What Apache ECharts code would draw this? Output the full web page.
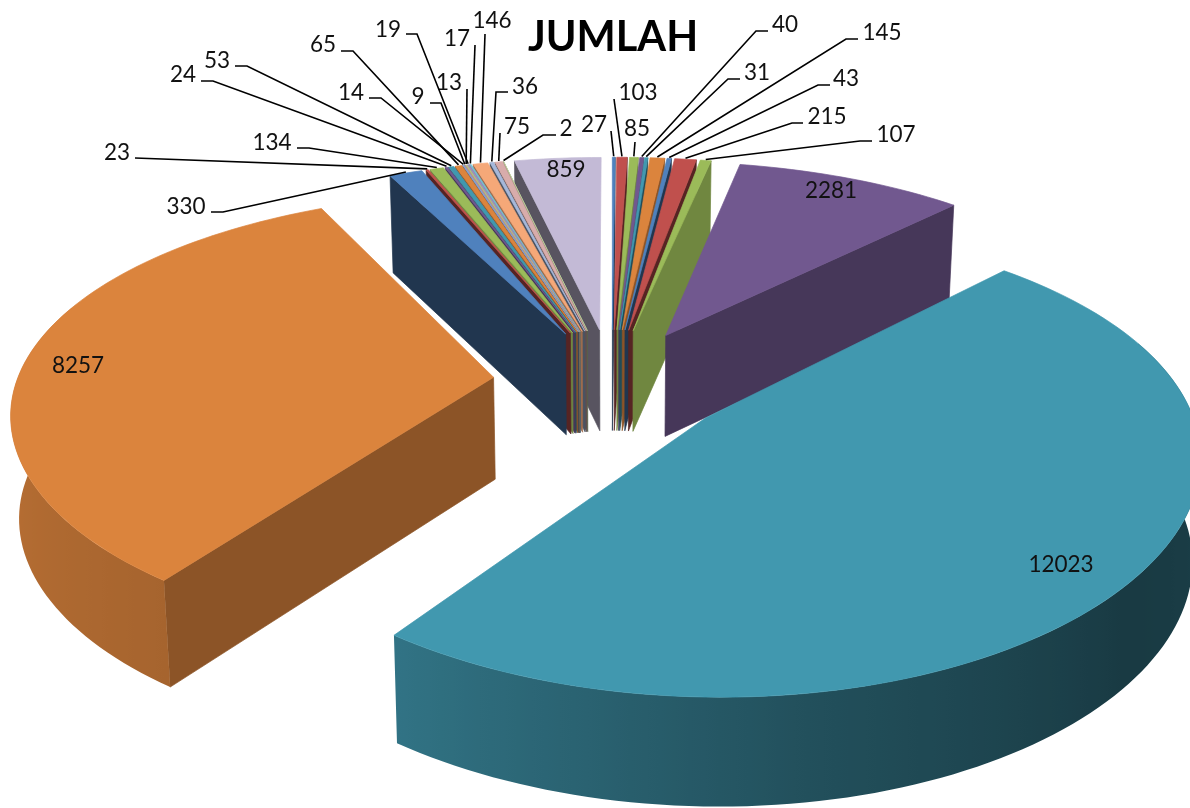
<!DOCTYPE html>
<html><head><meta charset="utf-8">
<style>html,body{margin:0;padding:0;background:#fff}#c{width:1190px;height:808px}</style>
<script src="https://cdn.jsdelivr.net/npm/echarts@6/dist/echarts.min.js"></script>
</head><body><div id="c"></div>
<script>
// ---- data (clockwise from 12 o'clock) ----
const labels = ['27','103','85','40','31','145','43','215','107','2281','12023','8257','330','23','134','24','53','65','14','9','13','19','17','146','36','75','2','859'];
const values = [27,103,85,40,31,145,43,215,107,2281,12023,8257,330,23,134,24,53,65,14,9,13,19,17,146,36,75,2,859];
const chartTitle = 'JUMLAH';

// ---- colours ----
const base = ['#4f81bd','#c0504d','#9bbb59','#71588f','#4198af','#db843d'];
const light = ['#8aa6d3','#c98d8b','#b3cc85','#a08fbe','#74bfd4','#f5a878'];
const lighter = ['#a5b8da','#d8acab','#c4d7a0','#c3bad6','#9dd0df','#f8c4a0'];
const faceShade = [.42,.45,.72,.62,.5,.64];
const colorOf = i => (i < 18 ? base : i < 24 ? light : lighter)[i % 6];
const faceOf = i => i < 24 ? faceShade[i % 6] : .45;

// ---- 3D projection layout ----
const view = {cx:612, cy:382, sx:477, sy:218, perspX:0.14, perspY:0.17, converge:0.014};
const explodeBy = 0.25;
const wallH = w => 72 + 30 / w;
const labelDy = 1.5;

// ---- label layout: text centre, elbow of the leader, end of the horizontal stub ----
const inside = {9:[831,189], 10:[1061,563], 11:[78,364], 27:[566,168]};
const callout = {
  0:{t:[594,123],p:[[611,131]]},
  1:{t:[638,91],p:[[614,99]]},
  2:{t:[637,127],p:[[635,142]]},
  3:{t:[785,23],p:[[768,31],[756,31]]},
  4:{t:[757,71],p:[[740,79],[728,79]]},
  5:{t:[882,31],p:[[858,39],[846,39]]},
  6:{t:[846,77],p:[[830,85],[818,85]]},
  7:{t:[827,115],p:[[803,123],[792,123]]},
  8:{t:[896,133],p:[[872,141],[860,141]]},
  12:{t:[186,205],p:[[211,212],[223,212]]},
  13:{t:[117,151],p:[[135,158]]},
  14:{t:[272,141],p:[[297,148],[309,148]]},
  15:{t:[183,73],p:[[201,81],[213,81]]},
  16:{t:[217,59],p:[[235,66],[247,66]]},
  17:{t:[323,43],p:[[341,51],[353,51]]},
  18:{t:[351,91],p:[[369,98],[381,98]]},
  19:{t:[418,95],p:[[430,103],[441,103]]},
  20:{t:[449,81],p:[[467,89]]},
  21:{t:[388,28],p:[[406,34],[417,34]]},
  22:{t:[457,37],p:[[475,45]]},
  23:{t:[492,19],p:[[485,34]]},
  24:{t:[525,85],p:[[508,92],[496,92]]},
  25:{t:[517,125],p:[[500,133]]},
  26:{t:[566,127],p:[[556,135],[543,135]]}
};

// ---- geometry driven by the values ----
const total = values.reduce((a,b)=>a+b,0);
const ranges = []; { let acc = 0; values.forEach(v=>{ const a0=acc/total*Math.PI*2; acc+=v; ranges.push([a0,acc/total*Math.PI*2]); }); }
const mids = ranges.map(r=>(r[0]+r[1])/2);
// plane point: X right, Y towards viewer; angle clockwise from back
const plane = (i,a,r) => { const m=mids[i], e=explodeBy; return [e*Math.sin(m)+r*Math.sin(a), -e*Math.cos(m)-r*Math.cos(a)]; };
const proj = ([X,Y]) => { const w=1-view.perspY*Y; return [view.cx+view.sx*X/(1-view.perspX*Y), view.cy+view.sy*Y/w, w]; };
const topPt = (i,a,r) => proj(plane(i,a,r));
const down = p => [p[0]+(view.cx-p[0])*view.converge, p[1]+wallH(p[2])];
const xy = p => [p[0],p[1]];

function scaleColor(hex,f){ const n=parseInt(hex.slice(1),16); return 'rgb('+[n>>16,(n>>8)&255,n&255].map(c=>Math.round(Math.min(255,c*f))).join(',')+')'; }
// light comes from the left of the picture
function shade(a){ const deg=a*180/Math.PI; const pts=[[0,.6],[90,.42],[130,.38],[170,.52],[216,.76],[270,.86],[340,.7],[360,.6]];
  for(let k=1;k<pts.length;k++){ if(deg<=pts[k][0]){ const t=(deg-pts[k-1][0])/(pts[k][0]-pts[k-1][0]); return pts[k-1][1]+t*(pts[k][1]-pts[k-1][1]); } } return .6; }

const drawOrder = values.map((_,i)=>i).sort((a,b)=>Math.cos(mids[b])-Math.cos(mids[a]));

function poly(points,fill,edge){ return {type:'polygon',shape:{points},style:{fill,stroke:edge||fill,lineWidth:.7}}; }

function renderSlice(params,api){
  const i=api.value(0), [a0,a1]=ranges[i], col=colorOf(i), ch=[];
  const apex=topPt(i,0,0);
  // only the cut faces turned towards the viewer
  if(Math.cos(a0-Math.PI/2)<0){ const o=topPt(i,a0,1); ch.push(poly([xy(apex),xy(o),down(o),down(apex)],scaleColor(col,faceOf(i)))); }
  if(Math.cos(a1+Math.PI/2)<0){ const o=topPt(i,a1,1); ch.push(poly([xy(apex),xy(o),down(o),down(apex)],scaleColor(col,faceOf(i)))); }
  // outer wall: front of the rim, up to its silhouette, shaded with a horizontal gradient
  const f0=Math.max(a0,Math.PI/2-0.35), f1=Math.min(a1,Math.PI*1.5+0.35);
  if(f1>f0 && a1>Math.PI/2 && a0<Math.PI*1.5){
    const n=Math.ceil((f1-f0)/(Math.PI/120)), up=[], low=[], samples=[];
    for(let k=0;k<=n;k++){ const a=f0+(f1-f0)*k/n, p=topPt(i,a,1); up.push(xy(p)); low.push(down(p)); samples.push([p[0],shade(a)]); }
    const xs=samples.map(s=>s[0]), xmin=Math.min(...xs), xmax=Math.max(...xs);
    // keep the monotonic run of the rim between its two horizontal extremes
    const iMax=xs.indexOf(xmax), iMin=xs.indexOf(xmin);
    const run=samples.slice(Math.min(iMax,iMin),Math.max(iMax,iMin)+1);
    const stops=run.map(s=>({offset:(s[0]-xmin)/(xmax-xmin),color:scaleColor(col,s[1])})).sort((p,q)=>p.offset-q.offset);
    const grad=new echarts.graphic.LinearGradient(xmin,0,xmax,0,stops,true);
    ch.push(poly(up.concat(low.reverse()),grad,'none'));
  }
  // top surface
  const steps=Math.max(2,Math.ceil((a1-a0)/(Math.PI/120)));
  const pts=[xy(apex)]; for(let k=0;k<=steps;k++){ pts.push(xy(topPt(i,a0+(a1-a0)*k/steps,1))); }
  ch.push(poly(pts,col));
  return {type:'group',children:ch};
}

function renderLabel(params,api){
  const i=api.value(0), ch=[], font='22.5px Lato, Carlito, sans-serif';
  if(inside[i]){ ch.push({type:'text',style:{text:labels[i],x:inside[i][0],y:inside[i][1]+labelDy,fill:'#111',font,align:'center',verticalAlign:'middle'}}); }
  const c=callout[i];
  if(c){ ch.push({type:'text',style:{text:labels[i],x:c.t[0],y:c.t[1]+labelDy,fill:'#111',font,align:'center',verticalAlign:'middle'}});
    const end=xy(topPt(i,mids[i],1.0)); end[1]-=1;
    ch.push({type:'polyline',shape:{points:[...c.p,end]},style:{fill:'none',stroke:'#000',lineWidth:1.6}}); }
  return {type:'group',children:ch};
}

const chart=echarts.init(document.getElementById('c'),null,{renderer:'canvas'});
chart.setOption({
  animation:false, backgroundColor:'#fff',
  title:{text:chartTitle,left:608,top:33,textAlign:'center',textVerticalAlign:'middle',textStyle:{fontFamily:'Lato, Carlito, sans-serif',fontWeight:'bold',fontSize:41.5,color:'#000'}},
  series:[
    {type:'custom',coordinateSystem:'none',silent:true,data:drawOrder.map(i=>[i,values[i]]),renderItem:renderSlice},
    {type:'custom',coordinateSystem:'none',silent:true,z:5,data:values.map((v,i)=>[i,v]),renderItem:renderLabel}
  ]
});
</script></body></html>
